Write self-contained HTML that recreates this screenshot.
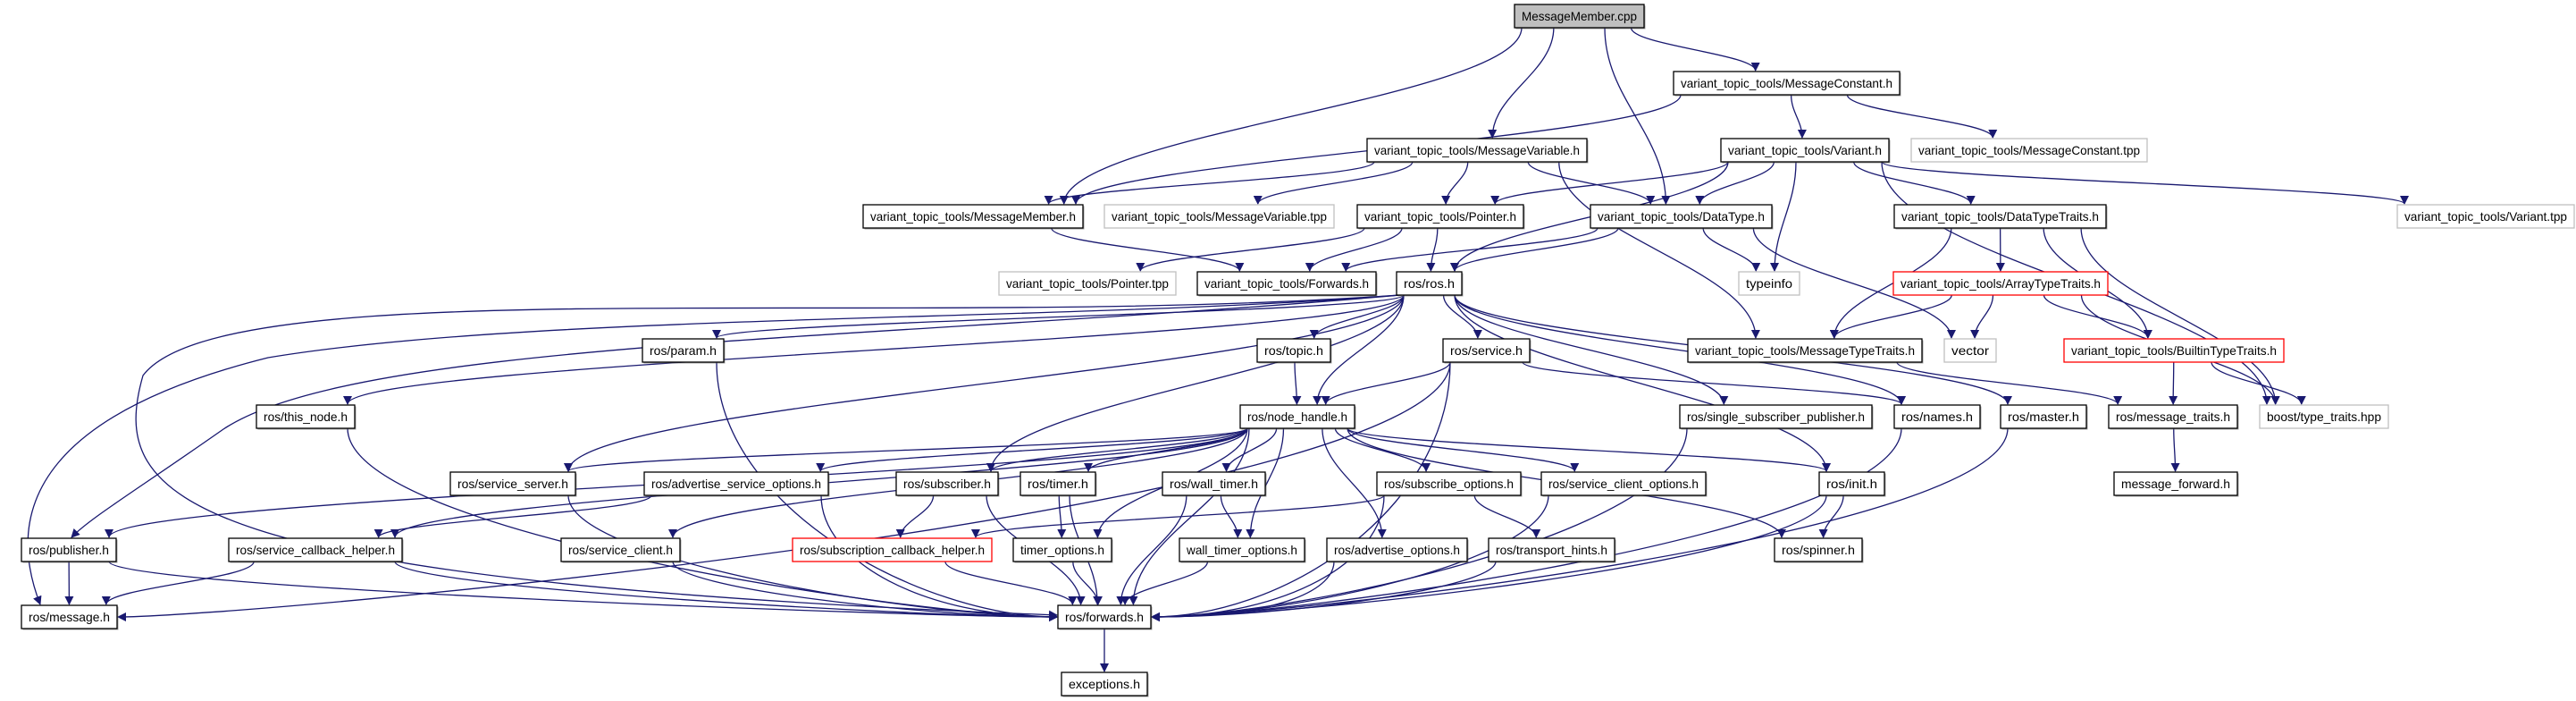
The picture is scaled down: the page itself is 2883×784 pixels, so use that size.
<!DOCTYPE html>
<html><head><meta charset="utf-8"><style>
html,body{margin:0;padding:0;background:#fff;}
svg{display:block;}
text{font-family:"Liberation Sans",sans-serif;font-size:14px;}
</style></head><body>
<svg id="s" width="2883" height="784" viewBox="0 0 2883 784" xmlns="http://www.w3.org/2000/svg">
<defs><marker id="a" markerWidth="10" markerHeight="10" refX="9" refY="5" orient="auto" markerUnits="userSpaceOnUse"><path d="M0,0 L10,5 L0,10 z" fill="#191970"/></marker></defs>
<g id="e"></g><g id="n"></g>
</svg>
<script>
var N={
cpp:[1695,1840,5,"MessageMember.cpp","g"],
MC:[1873,2126,80,"variant_topic_tools/MessageConstant.h"],
MV:[1530,1776,155,"variant_topic_tools/MessageVariable.h"],
V:[1926,2114,155,"variant_topic_tools/Variant.h"],
MCtpp:[2139,2403,155,"variant_topic_tools/MessageConstant.tpp","l"],
MM:[966,1212,229,"variant_topic_tools/MessageMember.h"],
MVtpp:[1236,1493,229,"variant_topic_tools/MessageVariable.tpp","l"],
Ptr:[1519,1705,229,"variant_topic_tools/Pointer.h"],
DT:[1780,1983,229,"variant_topic_tools/DataType.h"],
DTT:[2120,2357,229,"variant_topic_tools/DataTypeTraits.h"],
Vtpp:[2683,2881,229,"variant_topic_tools/Variant.tpp","l"],
Ptpp:[1118,1316,304,"variant_topic_tools/Pointer.tpp","l"],
Fwd:[1340,1540,304,"variant_topic_tools/Forwards.h"],
ros:[1563,1636,304,"ros/ros.h"],
typeinfo:[1946,2014,304,"typeinfo","l"],
ATT:[2119,2359,304,"variant_topic_tools/ArrayTypeTraits.h","r"],
param:[719,810,379,"ros/param.h"],
topic:[1407,1489,379,"ros/topic.h"],
service:[1615,1712,379,"ros/service.h"],
MTT:[1889,2151,379,"variant_topic_tools/MessageTypeTraits.h"],
vector:[2176,2234,379,"vector","l"],
BTT:[2310,2556,379,"variant_topic_tools/BuiltinTypeTraits.h","r"],
this_node:[287,397,453,"ros/this_node.h"],
nh:[1388,1516,453,"ros/node_handle.h"],
ssp:[1880,2095,453,"ros/single_subscriber_publisher.h"],
names:[2120,2216,453,"ros/names.h"],
master:[2239,2335,453,"ros/master.h"],
mtr:[2360,2504,453,"ros/message_traits.h"],
boost:[2529,2673,453,"boost/type_traits.hpp","l"],
ss:[504,644,528,"ros/service_server.h"],
aso:[721,927,528,"ros/advertise_service_options.h"],
sub:[1003,1117,528,"ros/subscriber.h"],
timer:[1142,1226,528,"ros/timer.h"],
wt:[1301,1416,528,"ros/wall_timer.h"],
so:[1541,1702,528,"ros/subscribe_options.h"],
sco:[1725,1909,528,"ros/service_client_options.h"],
init:[2036,2109,528,"ros/init.h"],
mfwd:[2366,2504,528,"message_forward.h"],
pub:[24,130,602,"ros/publisher.h"],
sch:[256,450,602,"ros/service_callback_helper.h"],
sc:[628,761,602,"ros/service_client.h"],
scb:[887,1110,602,"ros/subscription_callback_helper.h","r"],
to:[1134,1244,602,"timer_options.h"],
wto:[1320,1460,602,"wall_timer_options.h"],
ao:[1485,1642,602,"ros/advertise_options.h"],
th:[1666,1807,602,"ros/transport_hints.h"],
spin:[1986,2084,602,"ros/spinner.h"],
msg:[24,131,677,"ros/message.h"],
fw:[1184,1288,677,"ros/forwards.h"],
exc:[1188,1284,752,"exceptions.h"]
};
var E="cpp MM,cpp MV,cpp DT,cpp MC,MC MM,MC V,MC MCtpp,MV MM,MV MVtpp,MV Ptr,MV DT,MV MTT,V Ptr,V DT,V typeinfo,V ros,V DTT,V boost,V Vtpp,MM Fwd,Ptr Ptpp,Ptr Fwd,Ptr ros,DT Fwd,DT ros,DT typeinfo,DT vector,DTT MTT,DTT ATT,DTT BTT,DTT boost,ATT MTT,ATT vector,ATT BTT,ATT boost,BTT mtr,BTT boost,MTT mtr,ros param,ros this_node,ros topic,ros service,ros nh,ros ss,ros sub,ros ssp,ros names,ros master,ros init,param fw,this_node fw,topic nh,service nh,service names,service fw,service msg,nh ss,nh aso,nh sub,nh timer,nh wt,nh so,nh sco,nh sc,nh pub,nh to,nh wto,nh ao,nh init,nh spin,nh fw,nh sch,ss fw,aso sch,aso fw,sub scb,sub fw,timer to,timer fw,wt wto,wt fw,so scb,so th,so fw,sco fw,init spin,init fw,ssp fw,names fw,master fw,mtr mfwd,pub msg,pub fw,sch msg,sch fw,sc fw,scb fw,to fw,wto fw,ao fw,th fw,fw exc".split(",");
var eg=document.getElementById("e"),ng=document.getElementById("n"),NS="http://www.w3.org/2000/svg";
function el(t,a,p){var e=document.createElementNS(NS,t);for(var k in a)e.setAttribute(k,a[k]);p.appendChild(e);return e;}
function P(d){el("path",{d:d,fill:"none",stroke:"#191970","stroke-width":"1.3","marker-end":"url(#a)"},eg);}
P("M1566,330 C1200,360 600,350 300,400 C60,460 0,560 45,676");
P("M1566,330 C1000,370 250,300 160,420 C120,560 200,650 1183,688");
P("M1568,330 C1000,380 400,380 250,480 C150,550 100,580 80,601");
E.forEach(function(s){var p=s.split(" "),A=N[p[0]],B=N[p[1]];
 var ac=(A[0]+A[1])/2,bc=(B[0]+B[1])/2,ay=A[2]+26,by=B[2];
 var sx=Math.max(A[0]+8,Math.min(A[1]-8,ac+(bc-ac)*0.25));
 var tx=Math.max(B[0]+8,Math.min(B[1]-8,bc+(ac-bc)*0.15));
 var dy=by-ay,d;
 if((p[1]=="fw"||p[1]=="msg") && dy>40 && Math.abs(bc-ac)>300){
   var left=ac<bc, ex=left?B[0]-1:B[1]+1, ey=B[2]+13;
   d="M"+sx+","+ay+" C"+sx+","+(ay+dy*0.6)+" "+(left?ex-150:ex+150)+","+ey+" "+ex+","+ey;
 } else {
   d="M"+sx+","+ay+" C"+sx+","+(ay+dy*0.4)+" "+tx+","+(by-dy*0.4)+" "+tx+","+(by-1);
 }
 P(d);
});
for(var k in N){var n=N[k],w=n[1]-n[0];
 var st=n[4]=="l"?"#c0c0c0":(n[4]=="r"?"#ff0000":"#000");
 el("rect",{x:n[0]+1.5,y:n[2]+1.5,width:w,height:26,fill:"#666",opacity:n[4]=="l"||n[4]=="r"?0:0.6},ng);
 el("rect",{x:n[0],y:n[2],width:w,height:26,fill:n[4]=="g"?"#bfbfbf":"#fff",stroke:st,"stroke-width":"1.3"},ng);
 var t=el("text",{x:n[0]+w/2,y:n[2]+18,"text-anchor":"middle",textLength:w-16,lengthAdjust:"spacingAndGlyphs"},ng);
 t.textContent=n[3];}
</script>
</body></html>
